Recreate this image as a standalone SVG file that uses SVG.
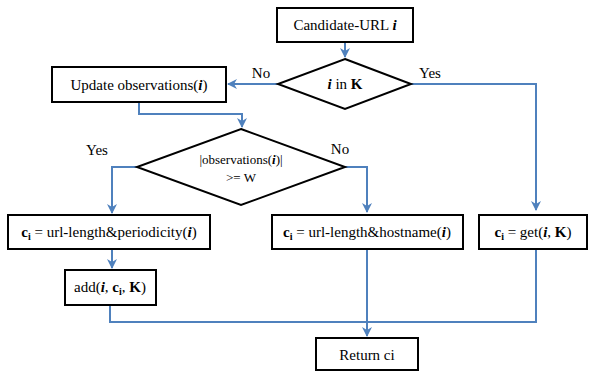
<svg xmlns="http://www.w3.org/2000/svg" width="589" height="371" viewBox="0 0 589 371">
<defs>
<marker id="arr" viewBox="0 0 10 10" refX="9" refY="5" markerWidth="5" markerHeight="5" orient="auto" markerUnits="strokeWidth">
<path d="M0,0 L10,5 L0,10 L3,5 Z" fill="#4f81bd"/>
</marker>
<style>
.box{fill:#fff;stroke:#000;stroke-width:2}
.con{fill:none;stroke:#4f81bd;stroke-width:2}
.t{font-family:'Liberation Serif','Times New Roman','DejaVu Serif',serif;font-size:15px;fill:#000}
.c{text-anchor:middle}
.bi{font-weight:bold;font-style:italic}
.b{font-weight:bold}
.sm{font-size:13px}
.sub{font-weight:bold;font-size:10px}
</style>
</defs>
<rect width="589" height="371" fill="#fff"/>
<g id="connectors">
<path class="con" d="M345,42 V57" marker-end="url(#arr)"/>
<path class="con" d="M278,84 H228" marker-end="url(#arr)"/>
<path class="con" d="M411,84 H536 V210" marker-end="url(#arr)"/>
<path class="con" d="M139,102 V114 H242 V127" marker-end="url(#arr)"/>
<path class="con" d="M137,167 H112 V213" marker-end="url(#arr)"/>
<path class="con" d="M345,167 H367 V212" marker-end="url(#arr)"/>
<path class="con" d="M112,249 V268" marker-end="url(#arr)"/>
<path class="con" d="M110,305 V322 H536 V249"/>
<path class="con" d="M367,249 V336" marker-end="url(#arr)"/>
<text x="261" y="78" class="t c">No</text>
<text x="430" y="78" class="t c">Yes</text>
<text x="97" y="155" class="t c">Yes</text>
<text x="340" y="154" class="t c">No</text>
</g>
<g id="candidate">
<rect class="box" x="277" y="8" width="136" height="34"/>
<text x="345" y="30" class="t c">Candidate-URL <tspan class="bi">i</tspan></text>
</g>
<g id="inK">
<polygon class="box" points="345,59 411,84 345,109 278,84"/>
<text x="345" y="89" class="t c"><tspan class="bi">i</tspan> in <tspan class="b">K</tspan></text>
</g>
<g id="update">
<rect class="box" x="52" y="67" width="174" height="35"/>
<text x="139" y="90" class="t c">Update observations(<tspan class="bi">i</tspan>)</text>
</g>
<g id="obs">
<polygon class="box" points="241,129 345,167 241,205 137,167"/>
<text x="241" y="164" class="t c sm">|observations(<tspan class="bi">i</tspan>)|</text>
<text x="241" y="182" class="t c sm">&gt;= W</text>
</g>
<g id="periodicity">
<rect class="box" x="8" y="215" width="202" height="34"/>
<text x="109" y="237" class="t c"><tspan class="b">c</tspan><tspan class="sub" dy="3">i</tspan><tspan dy="-3"> = url-length&amp;periodicity(</tspan><tspan class="bi">i</tspan>)</text>
</g>
<g id="hostname">
<rect class="box" x="272" y="215" width="191" height="34"/>
<text x="367" y="237" class="t c"><tspan class="b">c</tspan><tspan class="sub" dy="3">i</tspan><tspan dy="-3"> = url-length&amp;hostname(</tspan><tspan class="bi">i</tspan>)</text>
</g>
<g id="get">
<rect class="box" x="479" y="215" width="108" height="34"/>
<text x="533" y="237" class="t c"><tspan class="b">c</tspan><tspan class="sub" dy="3">i</tspan><tspan dy="-3"> = get(</tspan><tspan class="bi">i</tspan>, <tspan class="b">K</tspan>)</text>
</g>
<g id="add">
<rect class="box" x="65" y="270" width="91" height="35"/>
<text x="110" y="292" class="t c">add(<tspan class="bi">i</tspan>, <tspan class="b">c</tspan><tspan class="sub" dy="3">i</tspan><tspan dy="-3">, </tspan><tspan class="b">K</tspan>)</text>
</g>
<g id="return">
<rect class="box" x="316" y="338" width="102" height="32"/>
<text x="367" y="360" class="t c">Return ci</text>
</g>
</svg>
